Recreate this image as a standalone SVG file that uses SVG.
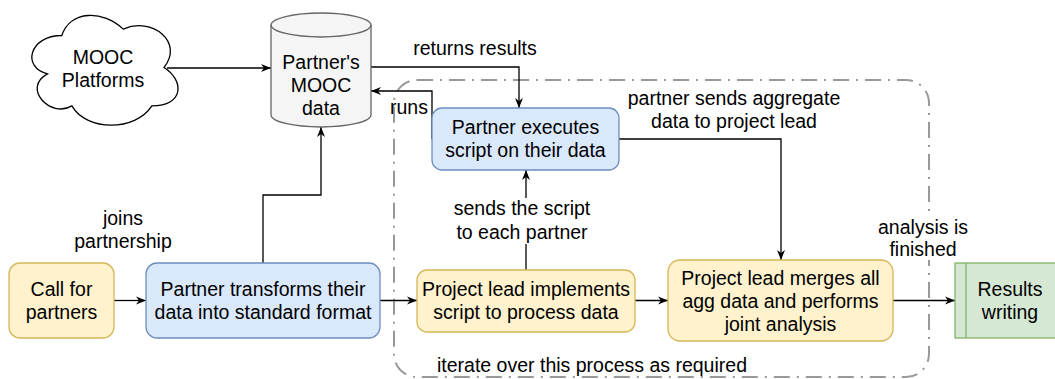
<svg xmlns="http://www.w3.org/2000/svg" width="1055" height="379" viewBox="0 0 1055 379">
<style>
text{font-family:"Liberation Sans",Arial,Helvetica,sans-serif;font-size:19.5px;fill:#000;text-anchor:middle}
.blue{fill:#dae8fc;stroke:#6c8ebf;stroke-width:1.3}
.yellow{fill:#fff2cc;stroke:#d6b656;stroke-width:1.3}
.green{fill:#d5e8d4;stroke:#82b366;stroke-width:1.3}
.edge{fill:none;stroke:#000;stroke-width:1.3;marker-end:url(#arr)}
.frame{fill:none;stroke:#999;stroke-width:2;stroke-dasharray:16 7 2 7}
.lbg{fill:#fff;stroke:none}
</style>
<defs>
<marker id="arr" viewBox="0 0 10 10" refX="10" refY="5" markerWidth="10" markerHeight="10" markerUnits="userSpaceOnUse" orient="auto">
<path d="M0,1 L10,5 L0,9 L3,5 Z" fill="#000"/>
</marker>
</defs>
<rect width="1055" height="379" fill="#fff"/>
<g id="iteration-frame">
<rect class="frame" x="394" y="80" width="535" height="297" rx="23" ry="23"/>
</g>
<g id="connectors">
<path class="edge" d="M167,68 H271"/>
<path class="edge" d="M263,263 V195 H321 V127"/>
<path class="edge" d="M114,300.5 H146"/>
<path class="edge" d="M380,300.5 H417"/>
<path class="edge" d="M526,270 V170"/>
<path class="edge" d="M432,139 V91 H371"/>
<path class="edge" d="M371,67 H519 V108"/>
<path class="edge" d="M619,139 H781 V260"/>
<path class="edge" d="M635,300.5 H668"/>
<path class="edge" d="M893,300.5 H955"/>
<text x="475" y="55">returns results</text>
<text x="409" y="114">runs</text>
<text x="734" y="104.5">partner sends aggregate</text>
<text x="734" y="128">data to project lead</text>
<rect class="lbg" x="452" y="198" width="142" height="46"/>
<text x="522" y="214.5">sends the script</text>
<text x="522" y="238.5">to each partner</text>
<text x="123" y="224.5">joins</text>
<text x="123" y="248">partnership</text>
<rect class="lbg" x="874" y="212" width="98" height="48"/>
<text x="923" y="233.5">analysis is</text>
<text x="923" y="256">finished</text>
<text x="592" y="372">iterate over this process as required</text>
</g>
<g id="mooc-platforms">
<path d="M61.8,35.5 C29.2,35.5 21.4,67.5 47.5,73.9 C21.4,88 50.7,118.7 71.9,105.9 C86.6,131.5 135.5,131.5 151.8,105.9 C184.4,105.9 184.4,80.3 164.0,67.5 C184.4,41.9 151.8,16.3 123.3,29.1 C102.9,9.9 70.3,9.9 61.8,35.5 Z" fill="#fff" stroke="#000" stroke-width="1.3"/>
<text x="103" y="63.5">MOOC</text>
<text x="103" y="86.5">Platforms</text>
</g>
<g id="partner-data">
<path d="M271,25 A50,12 0 0 1 371,25 L371,115 A50,12 0 0 1 271,115 Z" fill="#f5f5f5" stroke="#666" stroke-width="1.3"/>
<path d="M271,25 A50,12 0 0 0 371,25" fill="none" stroke="#666" stroke-width="1.3"/>
<text x="321" y="68.5">Partner's</text>
<text x="321" y="91.5">MOOC</text>
<text x="321" y="114.5">data</text>
</g>
<g id="call-for-partners">
<rect class="yellow" x="9" y="263" width="105" height="75" rx="11"/>
<text x="61.5" y="295.5">Call for</text>
<text x="61.5" y="318.5">partners</text>
</g>
<g id="partner-transforms">
<rect class="blue" x="146" y="263" width="234" height="75" rx="11"/>
<text x="263" y="295.5">Partner transforms their</text>
<text x="263" y="318.5">data into standard format</text>
</g>
<g id="partner-executes">
<rect class="blue" x="432" y="108" width="187" height="62" rx="10"/>
<text x="525.5" y="134">Partner executes</text>
<text x="525.5" y="157">script on their data</text>
</g>
<g id="project-lead-implements">
<rect class="yellow" x="417" y="270" width="218" height="62" rx="10"/>
<text x="526" y="295.5">Project lead implements</text>
<text x="526" y="318.5">script to process data</text>
</g>
<g id="project-lead-merges">
<rect class="yellow" x="668" y="260" width="225" height="81" rx="12"/>
<text x="780.5" y="285">Project lead merges all</text>
<text x="780.5" y="308">agg data and performs</text>
<text x="780.5" y="331">joint analysis</text>
</g>
<g id="results-writing">
<rect class="green" x="955" y="263" width="110" height="75"/>
<line x1="966" y1="263" x2="966" y2="338" stroke="#82b366" stroke-width="1.3"/>
<text x="1010" y="295.5">Results</text>
<text x="1010" y="318.5">writing</text>
</g>
</svg>
